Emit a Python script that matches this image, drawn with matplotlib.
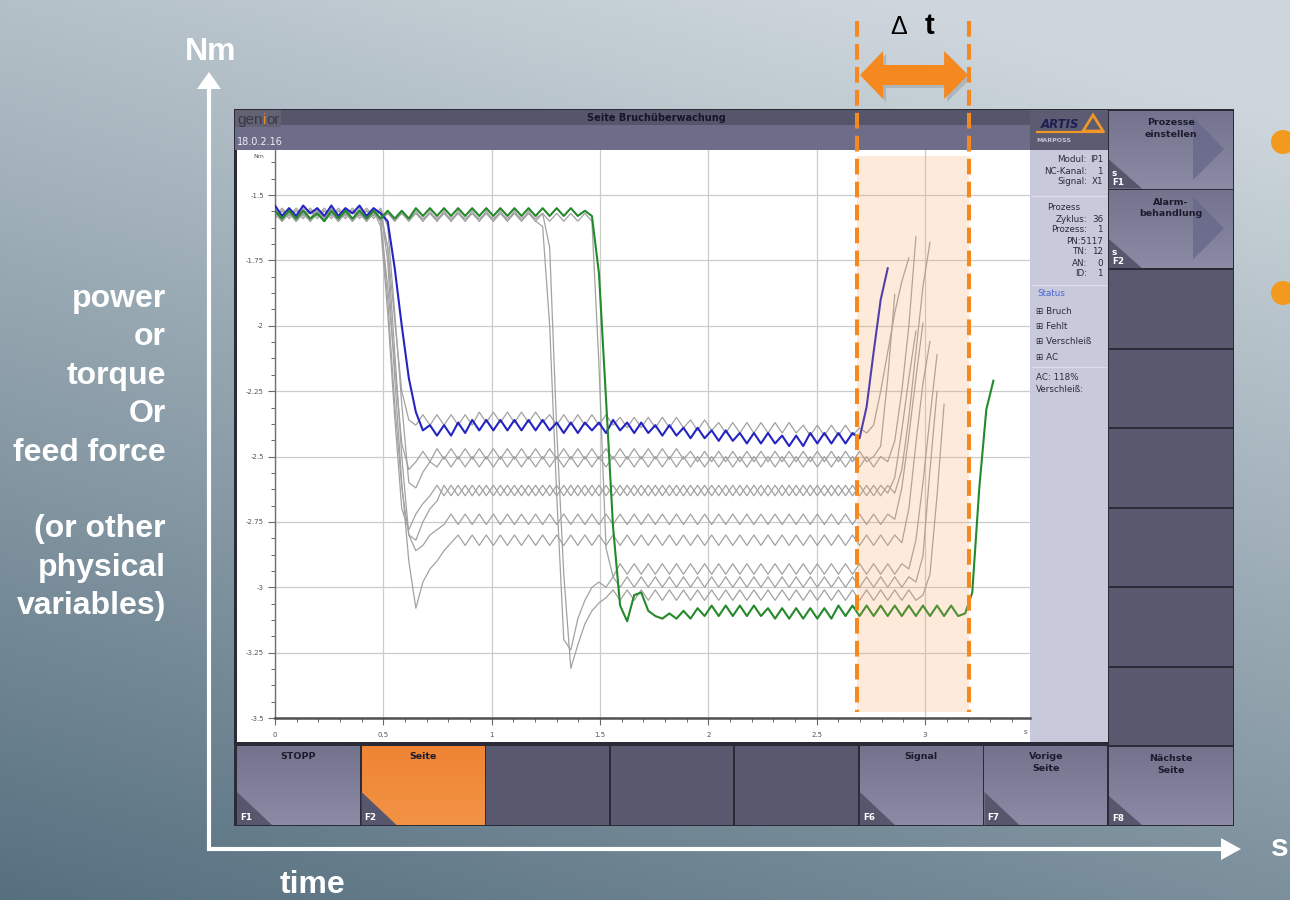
import numpy as np
import matplotlib
matplotlib.use("Agg")
import matplotlib.pyplot as plt
from matplotlib.colors import to_rgb
from matplotlib.patches import Rectangle, Polygon, Circle
from matplotlib.ticker import MultipleLocator

plt.rcParams["font.family"] = ["DejaVu Sans"]

# ---------------------------------------------------------------------------
# Torque signals, in units of 0.01 Nm, sampled every SAMPLE_PERIOD_S seconds
# ---------------------------------------------------------------------------
SAMPLE_PERIOD_S = 0.0325

current_cycle_cnm = [  # highlighted current cycle (blue)
    -154, -158, -155, -158, -154, -157, -155, -158, -154, -158,
    -155, -157, -154, -158, -155, -157, -160, -178, -200, -220,
    -233, -240, -238, -242, -238, -242, -237, -241, -236, -240,
    -236, -240, -236, -240, -236, -240, -236, -240, -236, -240,
    -237, -241, -237, -241, -237, -240, -237, -241, -236, -240,
    -237, -241, -237, -241, -238, -242, -238, -242, -239, -243,
    -239, -243, -240, -244, -240, -244, -241, -245, -241, -245,
    -241, -245, -242, -246, -242, -246, -241, -245, -241, -245,
    -241, -245, -241, -243, -231, -210, -190, -178,
]

reference_cycle_cnm = [  # reference cycle (green)
    -156, -159, -156, -159, -156, -159, -157, -160, -156, -159,
    -156, -159, -156, -159, -156, -159, -156, -159, -156, -159,
    -155, -158, -155, -158, -155, -158, -155, -158, -155, -158,
    -155, -158, -155, -158, -155, -158, -155, -158, -155, -158,
    -155, -158, -155, -158, -156, -158, -180, -228, -277, -307,
    -313, -303, -302, -309, -311, -312, -310, -312, -309, -312,
    -308, -311, -307, -311, -307, -311, -307, -311, -307, -311,
    -308, -312, -308, -312, -308, -312, -308, -312, -308, -312,
    -307, -311, -307, -311, -307, -311, -307, -311, -307, -311,
    -307, -311, -307, -311, -307, -311, -307, -311, -310, -302,
    -262, -232, -221,
]

# earlier cycles (grey)
history1_cnm = [
    -155, -159, -155, -159, -155, -159, -155, -159, -155, -159,
    -155, -159, -155, -159, -156, -157, -170, -198, -225, -236,
    -238, -234, -238, -234, -238, -234, -238, -234, -238, -233,
    -237, -233, -237, -233, -237, -233, -237, -233, -237, -234,
    -238, -234, -238, -234, -238, -234, -238, -234, -238, -235,
    -239, -235, -239, -235, -239, -235, -239, -235, -239, -236,
    -240, -236, -240, -237, -241, -237, -241, -237, -241, -237,
    -241, -237, -241, -237, -241, -238, -242, -238, -242, -238,
    -242, -238, -242, -239, -241, -238, -225, -210, -195, -183,
    -174,
]
history2_cnm = [
    -157, -160, -157, -160, -157, -160, -157, -160, -157, -160,
    -157, -160, -157, -160, -157, -160, -185, -215, -245, -255,
    -252, -248, -252, -247, -251, -247, -251, -247, -251, -247,
    -251, -247, -251, -247, -251, -247, -251, -247, -251, -247,
    -251, -247, -251, -247, -251, -247, -251, -247, -251, -247,
    -251, -247, -251, -247, -251, -247, -251, -247, -251, -248,
    -252, -248, -252, -248, -252, -248, -252, -248, -252, -248,
    -252, -248, -252, -248, -252, -248, -252, -248, -252, -248,
    -252, -248, -252, -248, -252, -250, -246, -220, -188,
]
history3_cnm = [
    -158, -155, -158, -155, -158, -155, -158, -155, -158, -155,
    -158, -155, -158, -155, -158, -155, -162, -195, -230, -260,
    -262, -256, -252, -254, -250, -254, -250, -254, -250, -254,
    -250, -254, -250, -254, -250, -254, -250, -254, -250, -254,
    -250, -254, -250, -254, -250, -254, -250, -254, -250, -254,
    -250, -254, -250, -254, -250, -254, -250, -254, -250, -254,
    -250, -254, -250, -254, -250, -254, -250, -254, -250, -254,
    -250, -254, -250, -254, -250, -254, -250, -254, -250, -254,
    -250, -254, -250, -254, -250, -254, -250, -252, -244, -225,
    -200, -166,
]
history4_cnm = [
    -156, -160, -156, -160, -156, -160, -156, -160, -156, -160,
    -156, -160, -156, -160, -156, -162, -195, -235, -270, -278,
    -272, -268, -265, -261, -265, -261, -265, -261, -265, -261,
    -265, -261, -265, -261, -265, -261, -265, -261, -265, -261,
    -265, -261, -265, -261, -265, -261, -265, -261, -265, -261,
    -265, -261, -265, -261, -265, -261, -265, -261, -265, -261,
    -265, -261, -265, -261, -265, -261, -265, -261, -265, -261,
    -265, -261, -265, -261, -265, -261, -265, -261, -265, -261,
    -265, -261, -265, -261, -265, -261, -265, -261, -264, -255,
    -235, -210, -185, -168,
]
history5_cnm = [
    -159, -156, -159, -156, -159, -156, -159, -156, -159, -156,
    -159, -156, -159, -156, -159, -156, -170, -210, -250, -280,
    -282, -275, -270, -267, -261, -265, -261, -265, -261, -265,
    -261, -265, -261, -265, -261, -265, -261, -265, -261, -265,
    -261, -265, -261, -265, -261, -265, -261, -265, -261, -265,
    -261, -265, -261, -265, -261, -265, -261, -265, -261, -265,
    -261, -265, -261, -265, -261, -265, -261, -265, -261, -265,
    -261, -265, -261, -265, -261, -265, -261, -265, -261, -265,
    -261, -265, -261, -265, -261, -265, -261, -264, -258, -240,
    -220, -202,
]
history6_cnm = [
    -156, -159, -156, -159, -156, -159, -156, -159, -156, -159,
    -156, -159, -156, -159, -156, -160, -190, -230, -262, -280,
    -286, -284, -280, -278, -276, -272, -276, -272, -276, -272,
    -276, -272, -276, -272, -276, -272, -276, -272, -276, -272,
    -276, -272, -276, -272, -276, -272, -276, -272, -276, -272,
    -276, -272, -276, -272, -276, -272, -276, -272, -276, -272,
    -276, -272, -276, -272, -276, -272, -276, -272, -276, -272,
    -276, -272, -276, -272, -276, -272, -276, -272, -276, -272,
    -276, -272, -276, -272, -276, -272, -276, -272, -274, -262,
    -242, -220, -199,
]
history7_cnm = [
    -158, -156, -158, -156, -158, -156, -158, -156, -158, -156,
    -158, -156, -158, -156, -158, -156, -175, -220, -260, -290,
    -308, -298, -293, -290, -286, -283, -280, -284, -280, -284,
    -280, -284, -280, -284, -280, -284, -280, -284, -280, -284,
    -280, -284, -280, -284, -280, -284, -280, -284, -280, -284,
    -280, -284, -280, -284, -280, -284, -280, -284, -280, -284,
    -280, -284, -280, -284, -280, -284, -280, -284, -280, -284,
    -280, -284, -280, -284, -280, -284, -280, -284, -280, -284,
    -280, -284, -280, -284, -280, -284, -280, -284, -280, -283,
    -270, -245, -222, -206,
]
history8_cnm = [
    -157, -160, -157, -160, -157, -160, -157, -160, -157, -160,
    -157, -160, -157, -160, -157, -160, -157, -160, -157, -160,
    -157, -160, -157, -160, -157, -160, -157, -160, -157, -160,
    -157, -160, -157, -160, -157, -160, -157, -160, -157, -160,
    -157, -160, -157, -160, -157, -160, -215, -285, -296, -291,
    -295, -291, -295, -291, -295, -291, -295, -291, -295, -291,
    -295, -291, -295, -291, -295, -291, -295, -291, -295, -291,
    -295, -291, -295, -291, -295, -291, -295, -291, -295, -291,
    -295, -291, -295, -291, -295, -291, -295, -291, -295, -291,
    -293, -282, -260, -235, -211,
]
history9_cnm = [
    -156, -160, -156, -160, -156, -160, -156, -160, -156, -160,
    -156, -160, -156, -160, -156, -160, -156, -160, -156, -160,
    -156, -160, -156, -160, -156, -160, -156, -160, -156, -160,
    -156, -160, -156, -160, -156, -160, -156, -160, -162, -200,
    -265, -320, -324, -312, -305, -300, -298, -300, -296, -300,
    -296, -300, -296, -300, -296, -300, -296, -300, -296, -300,
    -296, -300, -296, -300, -296, -300, -296, -300, -296, -300,
    -296, -300, -296, -300, -296, -300, -296, -300, -296, -300,
    -296, -300, -296, -300, -296, -300, -296, -300, -296, -300,
    -296, -298, -288, -255, -225,
]
history10_cnm = [
    -157, -159, -157, -159, -157, -159, -157, -159, -157, -159,
    -157, -159, -157, -159, -157, -159, -157, -159, -157, -159,
    -157, -159, -157, -159, -157, -159, -157, -159, -157, -159,
    -157, -159, -157, -159, -157, -159, -157, -159, -157, -170,
    -240, -295, -331, -322, -314, -309, -306, -304, -301, -305,
    -301, -305, -301, -305, -301, -305, -301, -305, -301, -305,
    -301, -305, -301, -305, -301, -305, -301, -305, -301, -305,
    -301, -305, -301, -305, -301, -305, -301, -305, -301, -305,
    -301, -305, -301, -305, -301, -305, -301, -305, -301, -305,
    -301, -305, -303, -295, -265, -230,
]

history_cycles = [history1_cnm, history2_cnm, history3_cnm, history4_cnm,
                  history5_cnm, history6_cnm, history7_cnm, history8_cnm,
                  history9_cnm, history10_cnm]

# monitoring window (s)
window_start_s = 2.686
window_end_s = 3.203

x_ticks = [0, 0.5, 1, 1.5, 2, 2.5, 3]
x_tick_labels = ["0", "0.5", "1", "1.5", "2", "2.5", "3"]
y_ticks = [-3.5, -3.25, -3, -2.75, -2.5, -2.25, -2, -1.75, -1.5]
y_tick_labels = ["-3.5", "-3.25", "-3", "-2.75", "-2.5", "-2.25", "-2", "-1.75", "-1.5"]

quantity_lines = ["power", "or", "torque", "Or", "feed force", "",
                  "(or other", "physical", "variables)"]

channel_rows = [("Modul:", "IP1"), ("NC-Kanal:", "1"), ("Signal:", "X1")]
process_rows = [("Zyklus:", "36"), ("Prozess:", "1"), ("", "PN:5117"),
                ("TN:", "12"), ("AN:", "0"), ("ID:", "1")]
status_items = ["Bruch", "Fehlt", "Verschleiß", "AC"]

bottom_keys = [("STOPP", "F1"), ("Seite", "F2"), ("", ""), ("", ""), ("", ""),
               ("Signal", "F6"), ("Vorige\nSeite", "F7")]
side_keys = [("Prozesse\neinstellen", "s\nF1"), ("Alarm-\nbehandlung", "s\nF2"),
             ("", ""), ("", ""), ("", ""), ("", ""), ("", ""), ("", ""),
             ("Nächste\nSeite", "F8")]

# ---------------------------------------------------------------------------
W, H = 1290, 900
fig = plt.figure(figsize=(W / 100, H / 100), dpi=100)

ui = fig.add_axes([0, 0, 1, 1])
ui.set_zorder(0)
ui.axis("off")

# backdrop gradient
gy, gx = np.mgrid[0:H:2, 0:W:2]
mix = np.clip(0.75 * gy / H + 0.3 * (1 - gx / W) - 0.1, 0, 1)[..., None]
c_light = np.array([205, 214, 220]) / 255
c_dark = np.array([80, 106, 122]) / 255
ui.imshow(c_light * (1 - mix) + c_dark * mix, extent=(0, W, H, 0),
          aspect="auto", interpolation="bilinear", zorder=0)


def box(x0, y0, x1, y1, color, z=2):
    ui.add_patch(Rectangle((x0, y0), x1 - x0, y1 - y0, facecolor=color,
                           edgecolor="none", zorder=z))


def vgrad(x0, y0, x1, y1, top, bot, z=2):
    f = np.linspace(0, 1, 64)[:, None, None]
    img = np.array(to_rgb(top)) * (1 - f) + np.array(to_rgb(bot)) * f
    ui.imshow(img, extent=(x0, x1, y1, y0), aspect="auto",
              interpolation="bilinear", zorder=z)


BTN_TXT = "#1c1c2e"
BTN_CORNER = "#56566c"

# screen frame
box(234, 109, 1234, 826, "#2b2b38", z=1)
box(235, 110, 1030, 125, "#56566b")
box(235, 125, 1030, 150, "#6d6d8a")
box(235, 110, 281, 127, "#626272")
box(237, 150, 1030, 742, "white")
box(1030, 110, 1108, 150, "#5b5b71")
box(1030, 150, 1108, 742, "#c9c9dc")

ui.text(656, 118, "Seite Bruchüberwachung", ha="center", va="center",
        fontsize=7, fontweight="bold", color="#14142a", zorder=4)
ui.text(237, 120, "gen", ha="left", va="center", fontsize=11,
        family="Liberation Sans", color="#38384a", zorder=4)
ui.text(262.5, 120, "i", ha="left", va="center", fontsize=11,
        family="Liberation Sans", color="#e8872a", zorder=4)
ui.text(266, 120, "or", ha="left", va="center", fontsize=11,
        family="Liberation Sans", color="#38384a", zorder=4)
ui.text(237, 142, "18.0.2.16", ha="left", va="center", fontsize=7,
        color="#eeeef6", zorder=4)

# logo block
ui.text(1060, 124, "ARTIS", ha="center", va="center", fontsize=8.5,
        fontweight="bold", style="italic", color="#1e1e52", zorder=4)
ui.plot([1037, 1103], [132, 132], color="#f0962a", lw=1.6, zorder=4)
ui.add_patch(Polygon([(1083, 131), (1093, 115), (1103, 131)], closed=True,
                     facecolor="none", edgecolor="#f0962a", lw=2, zorder=4))
ui.text(1036, 141, "MARPOSS", ha="left", va="center", fontsize=4.5,
        fontweight="bold", color="#c4c4d6", zorder=4)

# info panel
INFO = "#2a2a3a"
yy = 160
for lab, val in channel_rows:
    ui.text(1087, yy, lab, ha="right", va="center", fontsize=6.3, color=INFO, zorder=4)
    ui.text(1103, yy, val, ha="right", va="center", fontsize=6.3, color=INFO, zorder=4)
    yy += 11
ui.plot([1032, 1106], [196, 196], color="#dedeea", lw=0.8, zorder=3)
ui.text(1064, 208, "Prozess", ha="center", va="center", fontsize=6.3, color=INFO, zorder=4)
yy = 219
for lab, val in process_rows:
    if lab:
        ui.text(1087, yy, lab, ha="right", va="center", fontsize=6.3, color=INFO, zorder=4)
    ui.text(1103, yy, val, ha="right", va="center", fontsize=6.3, color=INFO, zorder=4)
    yy += 11
ui.plot([1032, 1106], [285, 285], color="#dedeea", lw=0.8, zorder=3)
ui.text(1037, 294, "Status", ha="left", va="center", fontsize=6.3, color="#4a66d6", zorder=4)
yy = 311
for item in status_items:
    ui.text(1036, yy, "⊞ " + item, ha="left", va="center", fontsize=6.3, color=INFO, zorder=4)
    yy += 15.5
ui.plot([1032, 1106], [367, 367], color="#dedeea", lw=0.8, zorder=3)
ui.text(1036, 378, "AC: 118%", ha="left", va="center", fontsize=6.3, color=INFO, zorder=4)
ui.text(1036, 390, "Verschleiß:", ha="left", va="center", fontsize=6.3, color=INFO, zorder=4)

# right soft keys
side_h = (826 - 110) / 9
for i, (label, key) in enumerate(side_keys):
    y0 = 110 + i * side_h
    y1 = y0 + side_h
    if label:
        vgrad(1109, y0 + 1, 1233, y1 - 1, "#73738e", "#8b8ba6")
        ui.add_patch(Polygon([(1109, y1 - 1), (1109, y1 - 30), (1142, y1 - 1)],
                             closed=True, facecolor=BTN_CORNER, edgecolor="none", zorder=3))
        ui.text(1112, y1 - 3, key, ha="left", va="bottom", fontsize=6.3,
                fontweight="bold", color="white", linespacing=1.0, zorder=4)
        ui.text(1171, y0 + 8, label, ha="center", va="top", fontsize=6.8,
                fontweight="bold", color=BTN_TXT, linespacing=1.4, zorder=4)
        if i < 2:
            ui.add_patch(Polygon([(1193, y0 + 7), (1193, y0 + 70), (1224, y0 + 39)],
                                 closed=True, facecolor="#68688a", edgecolor="none",
                                 alpha=0.8, zorder=3))
    else:
        box(1109, y0 + 1, 1233, y1 - 1, "#58586f")

# bottom soft keys
bot_w = (1108 - 236) / 7
for j, (label, key) in enumerate(bottom_keys):
    x0 = 236 + j * bot_w
    x1 = x0 + bot_w
    if label == "Seite":
        vgrad(x0 + 1, 746, x1 - 1, 825, "#ee8434", "#f29444")
    elif label:
        vgrad(x0 + 1, 746, x1 - 1, 825, "#73738e", "#8b8ba6")
    else:
        box(x0 + 1, 746, x1 - 1, 825, "#58586f")
    if label:
        ui.add_patch(Polygon([(x0 + 1, 825), (x0 + 1, 792), (x0 + 36, 825)],
                             closed=True, facecolor=BTN_CORNER, edgecolor="none", zorder=3))
        ui.text(x0 + 4, 822, key, ha="left", va="bottom", fontsize=6.3,
                fontweight="bold", color="white", zorder=4)
        ui.text((x0 + x1) / 2, 752, label, ha="center", va="top", fontsize=6.8,
                fontweight="bold", color=BTN_TXT, linespacing=1.4, zorder=4)

# outer axis arrows and captions
ui.plot([209, 209], [850, 86], color="white", lw=3.0, solid_capstyle="butt", zorder=3)
ui.add_patch(Polygon([(209, 72), (197, 89), (221, 89)], closed=True,
                     facecolor="white", edgecolor="none", zorder=3))
ui.plot([207, 1222], [849, 849], color="white", lw=3.0, solid_capstyle="butt", zorder=3)
ui.add_patch(Polygon([(1241, 849), (1221, 838), (1221, 860)], closed=True,
                     facecolor="white", edgecolor="none", zorder=3))
BIG = dict(family="Liberation Sans", fontweight="bold", color="white", fontsize=23, zorder=4)
ui.text(211, 52, "Nm", ha="center", va="center", **BIG)
ui.text(313, 885, "time", ha="center", va="center", **BIG)
ui.text(1289, 848, "s", ha="right", va="center", **BIG)
for k, line in enumerate(quantity_lines):
    if line:
        ui.text(166, 299 + k * 38.4, line, ha="right", va="center", **BIG)

for cy in (142, 293):
    ui.add_patch(Circle((1283, cy), 12, facecolor="#f39a1e", edgecolor="none", zorder=3))

ui.text(1025, 732, "s", ha="center", va="center", fontsize=5, color="#555555", zorder=4)
ui.text(259, 157, "Nm", ha="center", va="center", fontsize=4.5, color="#555555", zorder=4)

ui.set_xlim(0, W)
ui.set_ylim(H, 0)

# ---------------------------------------------------------------------------
# signal plot
ax = fig.add_axes([275 / W, 1 - 718 / H, (1030 - 275) / W, (718 - 150) / H])
ax.set_zorder(1)
ax.patch.set_alpha(0)
ax.set_xlim(0, 3.484)
ax.set_ylim(-3.5, -1.3276)

for cyc in history_cycles:
    t = np.arange(len(cyc)) * SAMPLE_PERIOD_S
    ax.plot(t, np.array(cyc) / 100, color="#a2a2a2", lw=0.9, zorder=2,
            solid_joinstyle="round")
t = np.arange(len(current_cycle_cnm)) * SAMPLE_PERIOD_S
ax.plot(t, np.array(current_cycle_cnm) / 100, color="#2424c2", lw=1.5, zorder=3,
        solid_joinstyle="round")
t = np.arange(len(reference_cycle_cnm)) * SAMPLE_PERIOD_S
ax.plot(t, np.array(reference_cycle_cnm) / 100, color="#23892a", lw=1.5, zorder=4,
        solid_joinstyle="round")

ax.axvspan(window_start_s, window_end_s, ymin=0.01, ymax=0.99,
           facecolor="#f6a25a", alpha=0.22, lw=0, zorder=5)

ax.set_xticks(x_ticks)
ax.set_xticklabels(x_tick_labels)
ax.set_yticks(y_ticks)
ax.set_yticklabels(y_tick_labels)
ax.xaxis.set_minor_locator(MultipleLocator(0.1))
ax.yaxis.set_minor_locator(MultipleLocator(0.0625))
ax.grid(which="major", color="#cccccc", lw=0.9, zorder=0)
ax.set_axisbelow(True)
ax.tick_params(which="major", length=5, width=0.8, color="#6a6a6a",
               labelsize=5, labelcolor="#555555")
ax.tick_params(which="minor", length=3, width=0.7, color="#6a6a6a")
ax.tick_params(axis="x", pad=5)
ax.tick_params(axis="y", pad=3)
for side in ("top", "right"):
    ax.spines[side].set_visible(False)
ax.spines["left"].set_color("#707070")
ax.spines["left"].set_linewidth(1.0)
ax.spines["bottom"].set_color("#505050")
ax.spines["bottom"].set_linewidth(1.8)

# ---------------------------------------------------------------------------
# Δt annotation
over = fig.add_axes([0, 0, 1, 1])
over.set_zorder(2)
over.patch.set_alpha(0)
over.axis("off")
over.set_xlim(0, W)
over.set_ylim(H, 0)


def data_to_px(tv, v):
    return over.transData.inverted().transform(ax.transData.transform((tv, v)))


xa = data_to_px(window_start_s, -2.5)[0]
xb = data_to_px(window_end_s, -2.5)[0]
ORANGE = "#f5891f"
for xv in (xa, xb):
    over.plot([xv, xv], [21, 712], color=ORANGE, lw=2.9,
              linestyle=(0, (3.9, 1.8)), dash_capstyle="butt")

ay = 75
arrow = [(xa + 3, ay), (xa + 26, ay - 24), (xa + 26, ay - 10), (xb - 25, ay - 10),
         (xb - 25, ay - 24), (xb - 1, ay), (xb - 25, ay + 24), (xb - 25, ay + 10),
         (xa + 26, ay + 10), (xa + 26, ay + 24)]
over.add_patch(Polygon([(px + 3, py + 3) for px, py in arrow], closed=True,
                       facecolor="black", alpha=0.12, edgecolor="none"))
over.add_patch(Polygon(arrow, closed=True, facecolor=ORANGE, edgecolor="none"))
xm = (xa + xb) / 2
over.text(xm - 14, 34, "Δ", ha="center", va="baseline", fontsize=18,
          family="Liberation Sans", color="black")
over.text(xm + 16, 34, "t", ha="center", va="baseline", fontsize=21,
          family="Liberation Sans", fontweight="bold", color="black")

fig.savefig("out.png", dpi=100)
